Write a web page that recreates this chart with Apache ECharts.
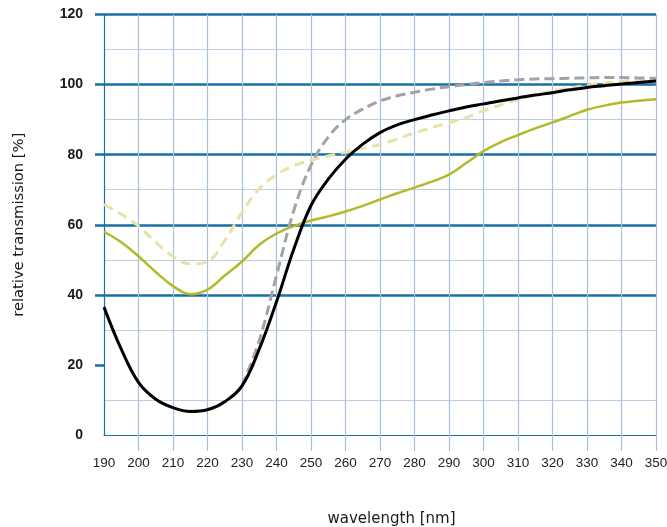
<!DOCTYPE html>
<html>
<head>
<meta charset="utf-8">
<script src="https://cdn.jsdelivr.net/npm/echarts@6/dist/echarts.min.js"></script>
<style>
html,body{margin:0;padding:0;background:#fff;}
#chart{width:667px;height:527px;}
</style>
</head>
<body>
<div id="chart"></div>
<script>
// ---- data ----
var wavelengths = [190,195,200,205,210,215,220,225,230,235,240,245,250,255,260,265,270,275,280,285,290,295,300,305,310,315,320,325,330,335,340,345,350];
var blackSolid  = [36.5,24.5,15,10.2,7.8,6.7,7.2,9.5,14,24.5,38,53,65.5,73,78.7,83,86.3,88.5,90,91.3,92.5,93.6,94.5,95.4,96.2,97,97.7,98.5,99.2,99.7,100.2,100.6,101];
var grayDashed  = [null,null,null,null,null,null,null,null,14,27,45.5,64,77,85,90,93,95.3,96.8,97.8,98.7,99.4,100,100.6,101,101.4,101.6,101.7,101.8,101.9,102,102,101.9,101.8];
var oliveSolid  = [58,55,51,46.5,42.5,40.2,41.5,45.5,49.5,54.3,57.5,59.6,61.2,62.4,63.8,65.4,67.2,69,70.6,72.3,74.3,77.6,81,83.6,85.6,87.5,89.2,91,92.8,94,94.9,95.4,95.8];
var paleDashed  = [65.8,63,59.6,55,51,48.8,49.5,55.5,63.5,70.3,74.3,76.8,78.4,79.6,80.7,81.8,82.9,84.5,86.2,87.7,89.1,90.6,92.5,94.2,95.7,97,98.1,99,99.8,100.4,100.9,101.3,101.7];
var xTickValues = [200,210,220,230,240,250,260,270,280,290,300,310,320,330,340,350];
var yTickValues = [20,40,60,80,100,120];
var xName = 'wavelength [nm]';
var yName = 'relative transmission [%]';

function pairs(ys){ return wavelengths.map(function(x,i){ return [x, ys[i]]; }); }

var MAJOR = '#176fa6', MINOR = '#bccee6', VERT = '#a9c0dc';

var chart = echarts.init(document.getElementById('chart'));
chart.setOption({
  animation: false,
  backgroundColor: '#fff',
  grid: {left: 104, right: 11, top: 14.5, bottom: 92, containLabel: false, outerBoundsMode: 'none'},
  xAxis: {
    type: 'value', min: 190, max: 350, interval: 10,
    name: xName, nameLocation: 'middle', nameGap: 77,
    nameTextStyle: {fontFamily: 'DejaVu Sans', fontSize: 15, color: '#1a1a1a', padding: [0,0,0,23]},
    axisLine: {show: true, lineStyle: {color: MAJOR, width: 1.2}},
    axisTick: {show: true, length: 16, customValues: xTickValues, lineStyle: {color: VERT, width: 1.2}},
    axisLabel: {margin: 21, fontFamily: 'Liberation Sans', fontSize: 13.5, color: '#222'},
    splitLine: {show: true, lineStyle: {color: VERT, width: 1.2}}
  },
  yAxis: {
    type: 'value', min: 0, max: 120, interval: 20,
    name: yName, nameLocation: 'middle', nameGap: 77, nameRotate: 90,
    nameTextStyle: {fontFamily: 'DejaVu Sans', fontSize: 14.7, color: '#1a1a1a'},
    axisLine: {show: true, lineStyle: {color: MAJOR, width: 1.2}},
    axisTick: {show: true, length: 9, customValues: yTickValues, lineStyle: {color: MAJOR, width: 2.5}},
    axisLabel: {margin: 21, fontFamily: 'Liberation Sans', fontWeight: 'bold', fontSize: 14, color: '#1a1a1a'},
    splitLine: {show: true, showMinLine: false, lineStyle: {color: MAJOR, width: 2.5}},
    minorTick: {show: false, splitNumber: 2},
    minorSplitLine: {show: true, lineStyle: {color: MINOR, width: 1.2}}
  },
  series: [
    {type: 'line', name: 'pale', data: pairs(paleDashed), smooth: 0.4, symbol: 'none',
     lineStyle: {color: '#e8e1a8', width: 3, type: [10,6]}},
    {type: 'line', name: 'gray', data: pairs(grayDashed), smooth: 0.4, symbol: 'none',
     lineStyle: {color: '#a3a3a7', width: 3, type: [10,5]}},
    {type: 'line', name: 'olive', data: pairs(oliveSolid), smooth: 0.4, symbol: 'none',
     lineStyle: {color: '#b4b92a', width: 2.5}},
    {type: 'line', name: 'black', data: pairs(blackSolid), smooth: 0.4, symbol: 'none',
     lineStyle: {color: '#000', width: 3}}
  ]
});
</script>
</body>
</html>
